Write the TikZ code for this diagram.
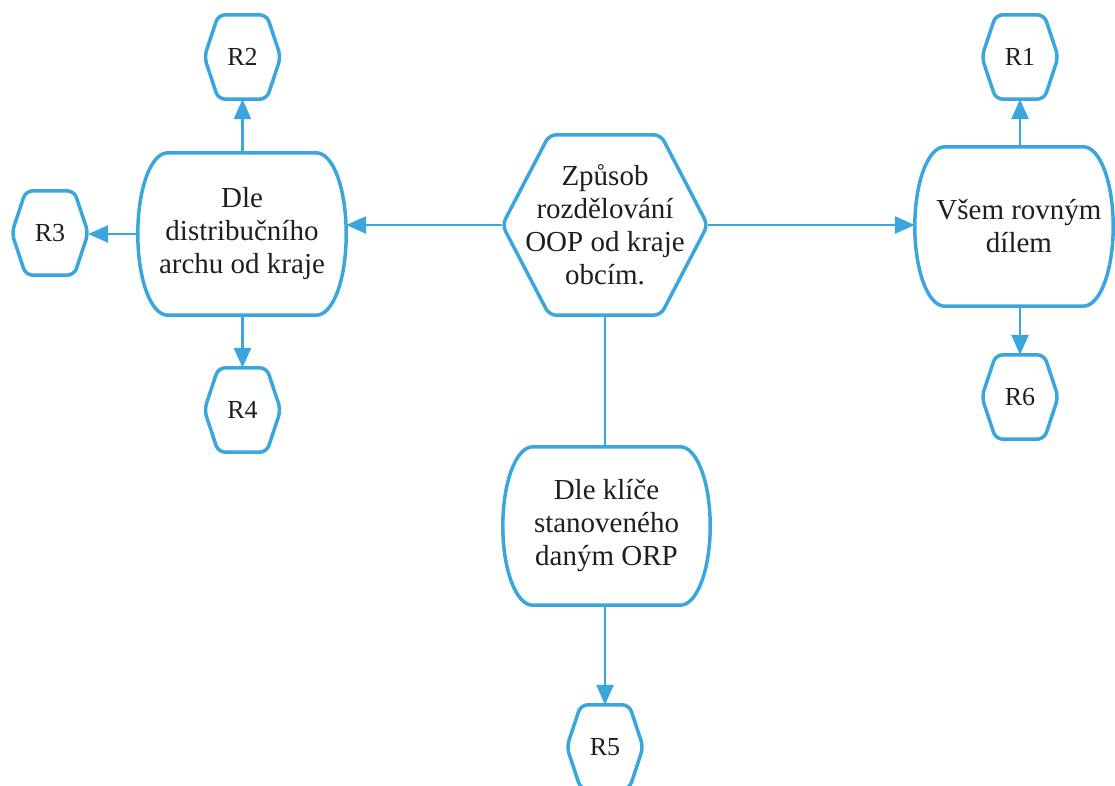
\documentclass[tikz,border=0pt]{standalone}
\usepackage{fontspec}
\setmainfont{Liberation Serif}
\usetikzlibrary{arrows.meta,calc}
\definecolor{lineblue}{HTML}{3AA6DD}
\definecolor{txt}{HTML}{1E1E1E}
\begin{document}
\begin{tikzpicture}[x=1pt,y=-1pt,
  holder/.style={inner sep=0pt, align=center, text=txt, font=\fontsize{29}{33}\selectfont},
  small/.style={inner sep=0pt, minimum width=76pt, minimum height=84pt, text=txt, font=\fontsize{26}{30}\selectfont},
  outline/.style={draw=lineblue, line width=3.5pt, rounded corners=7pt, line join=round},
  boxline/.style={draw=lineblue, line width=3.5pt, sharp corners, line join=round},
  conn/.style={draw=lineblue, line width=2.8pt},
  arr/.style={conn, -{Triangle[length=20pt,width=17pt]}}]
\useasboundingbox (0,0) rectangle (1115,785);

% main nodes
\node[holder, minimum width=205pt, minimum height=180pt] (C) at (605,225) {Způsob\\rozdělování\\OOP od kraje\\obcím.};
\node[holder, minimum width=208pt, minimum height=162pt] (L) at (242,234) {Dle\\distribučního\\archu od kraje};
\node[holder, minimum width=198pt, minimum height=159pt] (Rt) at (1014,226.5) {\hspace*{10pt}Všem rovným\\\hspace*{10pt}dílem};
\node[holder, minimum width=207pt, minimum height=158pt] (B) at (606.5,526) {Dle klíče\\stanoveného\\daným ORP};

% small hexagons
\node[small] (R2) at (242.5,57) {R2};
\node[small] (R1) at (1020,57) {R1};
\node[small] (R3) at (50,233) {R3};
\node[small] (R4) at (242.5,410) {R4};
\node[small] (R6) at (1020,397) {R6};
\node[small] (R5) at (605,747) {R5};

% hexagon outlines
\foreach \n/\i in {C/47,R1/14,R2/14,R3/14,R4/14,R5/14,R6/14}
  \draw[outline] (\n.north) -- ([xshift=-\i pt]\n.north east) -- (\n.east)
    -- ([xshift=-\i pt]\n.south east) -- ([xshift=\i pt]\n.south west)
    -- (\n.west) -- ([xshift=\i pt]\n.north west) -- cycle;

% rounded box outlines
\foreach \n in {L,Rt,B}
  \draw[boxline] (\n.north) -- ([xshift=-30pt]\n.north east)
    .. controls ([xshift=-13pt]\n.north east) and ([yshift=-36pt]\n.north east) .. (\n.east)
    .. controls ([yshift=36pt]\n.south east) and ([xshift=-13pt]\n.south east) .. ([xshift=-30pt]\n.south east)
    -- ([xshift=30pt]\n.south west)
    .. controls ([xshift=13pt]\n.south west) and ([yshift=36pt]\n.south west) .. (\n.west)
    .. controls ([yshift=-36pt]\n.north west) and ([xshift=13pt]\n.north west) .. ([xshift=30pt]\n.north west)
    -- cycle;

% connectors
\draw[arr] (C.west) -- (C.west -| L.east);
\draw[arr] (C.east) -- (C.east -| Rt.west);
\draw[conn] (C.south) -- (C.south |- B.north);
\draw[arr] (B.south -| R5.north) -- (R5.north);
\draw[arr] (L.north -| R2.south) -- (R2.south);
\draw[arr] (L.south -| R4.north) -- (R4.north);
\draw[arr] (L.west) -- (L.west -| R3.east);
\draw[arr] (Rt.north -| R1.south) -- (R1.south);
\draw[arr] (Rt.south -| R6.north) -- (R6.north);
\end{tikzpicture}
\end{document}
